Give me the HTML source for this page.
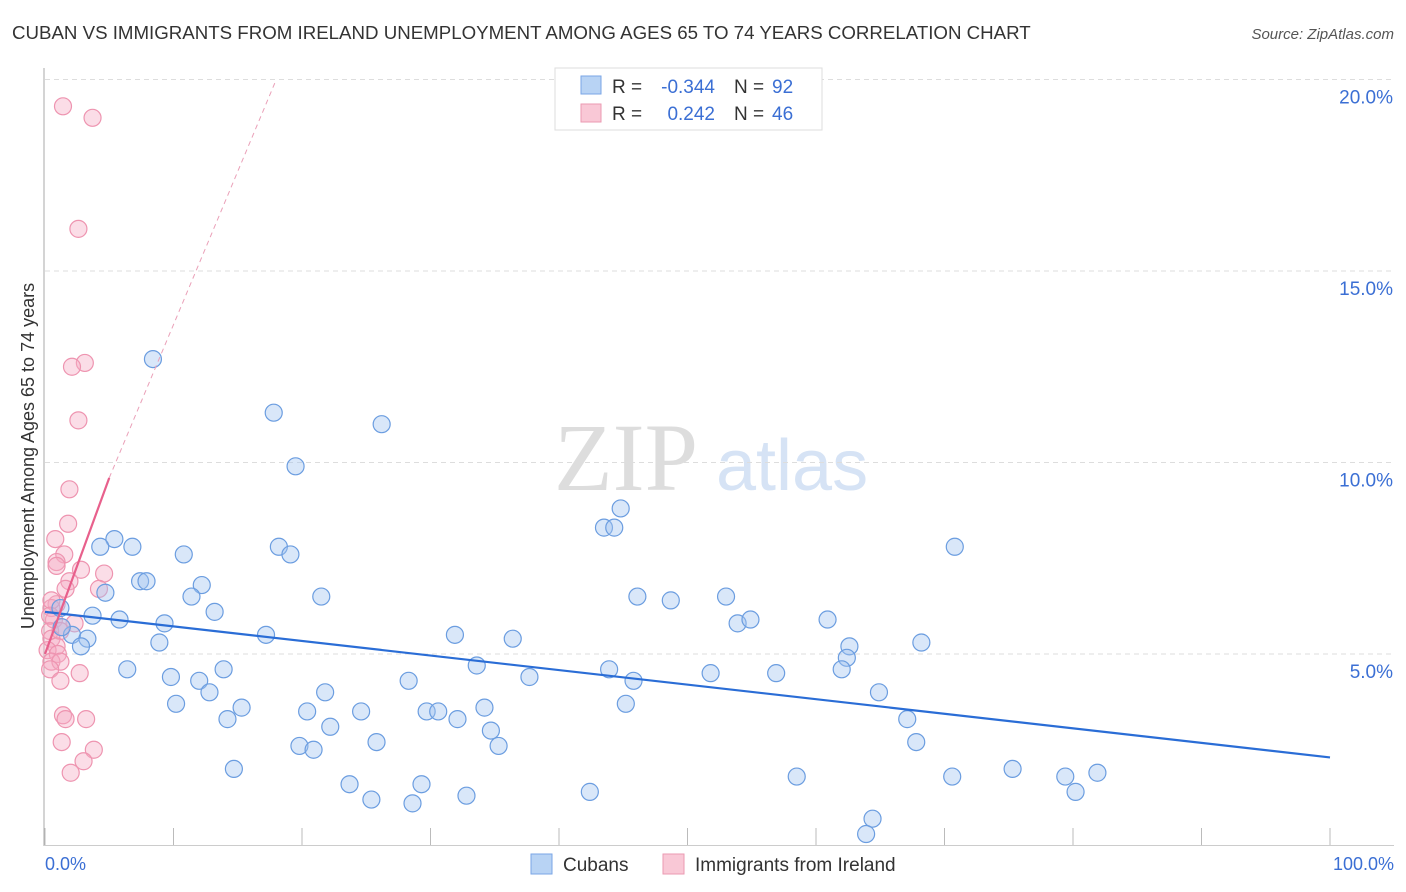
<!DOCTYPE html>
<html><head><meta charset="utf-8"><style>
body{margin:0;background:#fff;font-family:"Liberation Sans",sans-serif;}
svg{display:block}
</style></head><body>
<svg id="c" width="1406" height="892">
<text x="12" y="39" font-size="18.7" fill="#333">CUBAN VS IMMIGRANTS FROM IRELAND UNEMPLOYMENT AMONG AGES 65 TO 74 YEARS CORRELATION CHART</text>
<text x="1394" y="39" font-size="15" fill="#555" font-style="italic" text-anchor="end">Source: ZipAtlas.com</text>
<text x="698" y="490" font-size="96" fill="#ddd" text-anchor="end" font-family="Liberation Serif">ZIP</text>
<text x="716" y="490" font-size="72" fill="#d6e3f5">atlas</text>
<g id="grid"></g>
<g id="marks"></g>
<text transform="translate(34,456) rotate(-90)" font-size="18" fill="#333" text-anchor="middle">Unemployment Among Ages 65 to 74 years</text>
<text x="45" y="870" font-size="18" fill="#3b6fd4">0.0%</text>
<text x="1394" y="870" font-size="18" fill="#3b6fd4" text-anchor="end">100.0%</text>
<g>
<rect x="555" y="68" width="267" height="62" fill="#fff" stroke="#ddd"/>
<rect x="581" y="76" width="20" height="18" fill="#b8d3f4" stroke="#7aa6e6"/>
<rect x="581" y="104" width="20" height="18" fill="#f9c8d6" stroke="#eb9ab2"/>
<text x="612" y="93" font-size="19" fill="#333">R =</text>
<text x="715" y="93" font-size="19" fill="#3b6fd4" text-anchor="end">-0.344</text>
<text x="734" y="93" font-size="19" fill="#333">N =</text>
<text x="772" y="93" font-size="19" fill="#3b6fd4">92</text>
<text x="612" y="120" font-size="19" fill="#333">R =</text>
<text x="715" y="120" font-size="19" fill="#3b6fd4" text-anchor="end">0.242</text>
<text x="734" y="120" font-size="19" fill="#333">N =</text>
<text x="772" y="120" font-size="19" fill="#3b6fd4">46</text>
</g>
<g>
<rect x="531" y="854" width="21" height="20" fill="#b8d3f4" stroke="#7aa6e6"/>
<text x="563" y="871" font-size="19" fill="#333">Cubans</text>
<rect x="663" y="854" width="21" height="20" fill="#f9c8d6" stroke="#eb9ab2"/>
<text x="695" y="871" font-size="19" fill="#333">Immigrants from Ireland</text>
</g>
</svg>
<script>
const yTicks=[5,10,15,20];
const blueX=[8.4,17.8,26.2,19.5,44.8,43.5,44.3,70.8,5.4,4.3,6.8,10.8,18.2,19.1,7.4,7.9,4.7,12.2,11.4,21.5,46.1,48.7,53,3.7,5.8,13.2,9.3,1.2,17.2,31.9,36.4,60.9,53.9,54.9,68.2,62.6,62.4,62,2.1,3.3,2.8,8.9,6.4,13.9,9.8,33.6,43.9,51.8,56.9,12,12.8,21.8,28.3,37.7,45.8,64.9,10.2,15.3,14.2,20.4,24.6,29.7,30.6,34.2,32.1,45.2,67.1,22.2,34.7,25.8,19.8,20.9,35.3,67.8,14.7,58.5,70.6,75.3,79.4,81.9,80.2,23.7,29.3,25.4,28.6,32.8,42.4,64.4,63.9,1.3];
const blueY=[12.7,11.3,11,9.9,8.8,8.3,8.3,7.8,8,7.8,7.8,7.6,7.8,7.6,6.9,6.9,6.6,6.8,6.5,6.5,6.5,6.4,6.5,6,5.9,6.1,5.8,6.2,5.5,5.5,5.4,5.9,5.8,5.9,5.3,5.2,4.9,4.6,5.5,5.4,5.2,5.3,4.6,4.6,4.4,4.7,4.6,4.5,4.5,4.3,4,4,4.3,4.4,4.3,4,3.7,3.6,3.3,3.5,3.5,3.5,3.5,3.6,3.3,3.7,3.3,3.1,3,2.7,2.6,2.5,2.6,2.7,2,1.8,1.8,2,1.8,1.9,1.4,1.6,1.6,1.2,1.1,1.3,1.4,0.7,0.3,5.7];
const pinkX=[1.4,3.7,2.6,3.1,2.1,2.6,1.9,1.8,0.8,1.5,0.9,0.9,2.8,4.6,1.9,1.6,4.2,0.9,0.5,0.7,2.3,1.3,0.4,1.2,0.5,0.9,0.2,1,0.5,1.2,0.4,2.7,1.2,1.4,3.2,1.6,1.3,3.8,3,2,0.5,0.4];
const pinkY=[19.3,19,16.1,12.6,12.5,11.1,9.3,8.4,8,7.6,7.4,7.3,7.2,7.1,6.9,6.7,6.7,6.3,6.2,5.9,5.8,5.7,5.6,5.6,5.4,5.2,5.1,5,4.8,4.8,4.6,4.5,4.3,3.4,3.3,3.3,2.7,2.5,2.2,1.9,6.4,6];
const blueTrend=[[0,6.1],[100,2.3]];
const pinkTrend=[[0,5.0],[5,9.6]];
const pinkDash=[[5,9.6],[18,20]];
const X=v=>45+v*12.85, Y=v=>845.5-v*38.3;
const NS="http://www.w3.org/2000/svg";
const grid=document.getElementById('grid'), marks=document.getElementById('marks');
function mk(tag,attrs,parent){const e=document.createElementNS(NS,tag);for(const k in attrs)e.setAttribute(k,attrs[k]);parent.appendChild(e);return e;}
yTicks.forEach(t=>{
 const l=mk('line',{x1:45,x2:1394,y1:Y(t),y2:Y(t),stroke:'#ddd','stroke-dasharray':'5,4'},grid);
 
 
 const tx=mk('text',{x:1393,y:Y(t)+24,'font-size':19,fill:'#3b6fd4','text-anchor':'end'},grid);
 tx.textContent=t.toFixed(1)+'%';
 
 
});
const ax=mk('line',{x1:44,x2:44,y1:68,y2:846,stroke:'#aaa'},grid);


const bx=mk('line',{x1:44,x2:1394,y1:845.5,y2:845.5,stroke:'#ccc'},grid);


for(let i=0;i<=10;i++){
 const t=mk('line',{x1:X(i*10),x2:X(i*10),y1:828,y2:845,stroke:'#bbb'},grid);
 
 
}
pinkX.forEach((v,i)=>{
 const c=mk('circle',{cx:X(v),cy:Y(pinkY[i]),r:8.5,fill:'rgba(246,170,195,0.4)',stroke:'#ee94b0','stroke-width':1.2},marks);
 
 
});
blueX.forEach((v,i)=>{
 const c=mk('circle',{cx:X(v),cy:Y(blueY[i]),r:8.5,fill:'rgba(160,196,240,0.4)',stroke:'#6b9de0','stroke-width':1.2},marks);
 
 
});
const bl=mk('line',{x1:X(blueTrend[0][0]),y1:Y(blueTrend[0][1]),x2:X(blueTrend[1][0]),y2:Y(blueTrend[1][1]),stroke:'#2a6dd6','stroke-width':2.2},marks);


const pl=mk('line',{x1:X(pinkTrend[0][0]),y1:Y(pinkTrend[0][1]),x2:X(pinkTrend[1][0]),y2:Y(pinkTrend[1][1]),stroke:'#e8608c','stroke-width':2.2},marks);


const pd=mk('line',{x1:X(pinkDash[0][0]),y1:Y(pinkDash[0][1]),x2:X(pinkDash[1][0]),y2:Y(pinkDash[1][1]),stroke:'#eaa0b8','stroke-width':1,'stroke-dasharray':'5,4'},marks);


</script>
</body></html>
